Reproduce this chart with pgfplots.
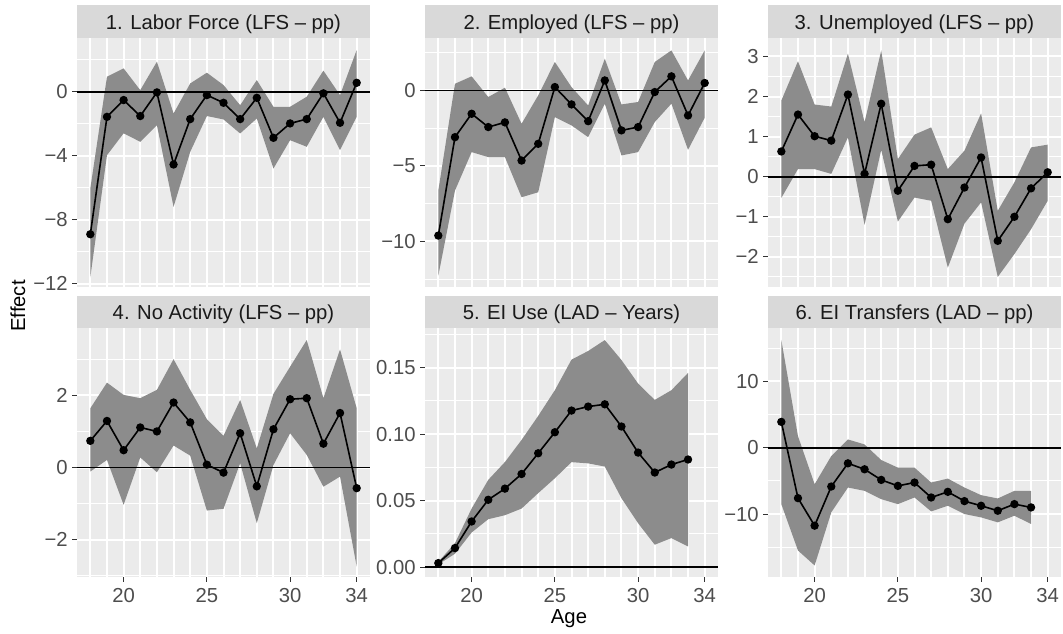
\documentclass[border=0pt]{standalone}
\usepackage{fontspec}
\setmainfont{Liberation Sans}
\usepackage{pgfplots}
\pgfplotsset{compat=1.18}
\usepackage{pgfplotstable}
\usepgfplotslibrary{fillbetween}

\definecolor{panelbg}{HTML}{EBEBEB}
\definecolor{stripbg}{HTML}{D9D9D9}
\definecolor{striptext}{HTML}{1A1A1A}
\definecolor{ticktext}{HTML}{4D4D4D}
\definecolor{tickcol}{HTML}{333333}
\definecolor{ribbon}{HTML}{8C8C8C}

\newcommand{\txt}{\fontsize{15.2}{18}\selectfont}

% age, estimate, lower bound, upper bound
\pgfplotstableread{
age est lo hi
18 -8.91 -11.60 -6.05
19 -1.57 -3.97 0.94
20 -0.52 -2.60 1.46
21 -1.52 -3.13 0.10
22 -0.04 -2.09 1.88
23 -4.55 -7.20 -1.36
24 -1.71 -3.76 0.52
25 -0.21 -1.52 1.19
26 -0.69 -1.73 0.42
27 -1.71 -2.61 -0.84
28 -0.38 -1.67 0.73
29 -2.88 -4.80 -0.94
30 -1.98 -3.03 -0.94
31 -1.71 -3.44 -0.31
32 -0.10 -1.57 1.32
33 -1.94 -3.65 -0.21
34 0.56 -1.57 2.61
}\tLabor

\pgfplotstableread{
age est lo hi
18 -9.62 -12.28 -6.64
19 -3.10 -6.64 0.44
20 -1.55 -4.09 0.93
21 -2.43 -4.42 -0.44
22 -2.12 -4.42 0.18
23 -4.65 -7.08 -2.21
24 -3.54 -6.75 -0.33
25 0.22 -1.77 1.88
26 -0.93 -2.32 0.22
27 -2.04 -3.10 -1.00
28 0.66 -0.88 2.10
29 -2.65 -4.31 -0.93
30 -2.43 -4.09 -0.77
31 -0.11 -2.10 1.88
32 0.93 -0.88 2.65
33 -1.66 -3.94 0.66
34 0.49 -1.81 2.65
}\tEmp

\pgfplotstableread{
age est lo hi
18 0.63 -0.53 1.90
19 1.55 0.19 2.88
20 1.01 0.19 1.80
21 0.90 0.07 1.75
22 2.05 0.98 3.07
23 0.07 -1.20 1.36
24 1.82 0.67 3.15
25 -0.35 -1.12 0.44
26 0.27 -0.52 1.05
27 0.30 -0.60 1.23
28 -1.06 -2.27 0.19
29 -0.27 -1.17 0.65
30 0.48 -0.64 1.58
31 -1.60 -2.50 -0.85
32 -1.00 -1.93 -0.14
33 -0.29 -1.31 0.73
34 0.11 -0.60 0.80
}\tUnemp

\pgfplotstableread{
age est lo hi
18 0.74 -0.11 1.64
19 1.29 0.21 2.35
20 0.48 -1.03 2.01
21 1.11 0.28 1.92
22 1.00 -0.13 2.15
23 1.80 0.61 3.00
24 1.25 0.33 2.15
25 0.08 -1.19 1.34
26 -0.14 -1.14 0.88
27 0.95 0.12 1.87
28 -0.52 -1.54 0.53
29 1.06 0.07 2.04
30 1.89 0.95 2.79
31 1.92 0.35 3.53
32 0.66 -0.53 1.92
33 1.51 -0.25 3.27
34 -0.57 -2.74 1.64
}\tNoAct

\pgfplotstableread{
age est lo hi
18 0.0030 0.0020 0.0040
19 0.0143 0.0100 0.0180
20 0.0343 0.0260 0.0440
21 0.0506 0.0360 0.0656
22 0.0590 0.0390 0.0790
23 0.0700 0.0440 0.0956
24 0.0856 0.0556 0.1137
25 0.1014 0.0668 0.1330
26 0.1177 0.0789 0.1560
27 0.1207 0.0780 0.1625
28 0.1224 0.0756 0.1707
29 0.1057 0.0518 0.1557
30 0.0861 0.0330 0.1380
31 0.0711 0.0168 0.1257
32 0.0771 0.0218 0.1330
33 0.0809 0.0155 0.1460
}\tEIuse

\pgfplotstableread{
age est lo hi
18 3.90 -8.50 16.25
19 -7.60 -15.50 1.75
20 -11.75 -17.75 -5.50
21 -5.85 -9.75 -1.25
22 -2.35 -6.00 1.25
23 -3.25 -6.50 0.50
24 -4.85 -7.75 -1.85
25 -5.75 -8.50 -3.00
26 -5.25 -7.50 -3.00
27 -7.50 -9.60 -5.25
28 -6.65 -8.75 -4.65
29 -8.05 -10.00 -6.00
30 -8.75 -10.50 -7.15
31 -9.50 -11.25 -7.65
32 -8.50 -10.25 -6.50
33 -9.00 -11.50 -6.50
}\tEItr

\pgfplotsset{
  facet/.style={
    scale only axis, width=219.75pt, height=187pt,
    xmin=17.2, xmax=34.8,
    axis background/.style={fill=panelbg},
    axis line style={draw=none},
    tick align=outside, tick pos=left,
    major tick length=3.4pt, minor tick length=0pt,
    every tick/.style={color=tickcol, line width=0.8pt},
    grid=both,
    major x grid style={white, line width=1.5pt},
    minor x grid style={white, line width=1.5pt},
    major y grid style={white, line width=1.5pt},
    minor y grid style={white, line width=0.75pt},
    ticklabel style={font=\txt, text=ticktext},
    yticklabel style={anchor=east, inner sep=0pt, xshift=-3.4pt},
    xticklabel style={anchor=north, inner sep=0pt, yshift=-5.1pt},
    scaled y ticks=false,
  },
  % upper panels: a vertical grid line at every age, no x ticks
  toprow/.style={facet, xtick=\empty,
    extra x ticks={18,...,34}, extra x tick labels={},
    extra x tick style={grid=major, tick style={draw=none}}},
  % lower panels: labelled ages, grid line at every age
  botrow/.style={facet, xtick={20,25,30,34}, xticklabels={20,25,30,34},
    minor xtick={18,...,34}},
}

% ribbon, zero line, then the estimate line with points
\newcommand{\facetplot}[2]{%
  \addplot[name path=hi#2, draw=none, forget plot] table[x=age, y=hi] {#1};
  \addplot[name path=lo#2, draw=none, forget plot] table[x=age, y=lo] {#1};
  \addplot[fill=ribbon, draw=none] fill between[of=hi#2 and lo#2];
  \addplot[black, line width=1.2pt] coordinates {(17.2,0) (34.8,0)};
  \addplot[black, line width=1.2pt, mark=*, mark size=2.5pt] table[x=age, y=est] {#1};
}

\begin{document}
\begin{tikzpicture}

% strips
\fill[stripbg] (57.75pt,-3.75pt) rectangle (277.5pt,-28.5pt);
\fill[stripbg] (318.75pt,-3.75pt) rectangle (538.5pt,-28.5pt);
\fill[stripbg] (576pt,-3.75pt) rectangle (795.75pt,-28.5pt);
\fill[stripbg] (57.75pt,-222pt) rectangle (277.5pt,-245.78pt);
\fill[stripbg] (318.75pt,-222pt) rectangle (538.5pt,-245.78pt);
\fill[stripbg] (576pt,-222pt) rectangle (795.75pt,-245.78pt);
\begin{scope}[every node/.style={anchor=base, font=\txt, text=striptext, inner sep=0pt}]
\node at (167.625pt,-22.2pt) {1. Labor Force (LFS – pp)};
\node at (428.625pt,-22.2pt) {2. Employed (LFS – pp)};
\node at (685.875pt,-22.2pt) {3. Unemployed (LFS – pp)};
\node at (167.625pt,-239.6pt) {4. No Activity (LFS – pp)};
\node at (428.625pt,-239.6pt) {5. EI Use (LAD – Years)};
\node at (685.875pt,-239.6pt) {6. EI Transfers (LAD – pp)};
\end{scope}

% 1. Labor force
\begin{axis}[toprow, at={(57.75pt,-28.5pt)}, anchor=north west,
  ymin=-12.23, ymax=3.36,
  ytick={-12,-8,-4,0}, yticklabels={−12,−8,−4,0},
  minor ytick={-10,-6,-2,2}]
\facetplot{\tLabor}{A}
\end{axis}

% 2. Employed
\begin{axis}[toprow, at={(318.75pt,-28.5pt)}, anchor=north west,
  ymin=-13.05, ymax=3.47,
  ytick={-10,-5,0}, yticklabels={−10,−5,0},
  minor ytick={-12.5,-7.5,-2.5,2.5}]
\facetplot{\tEmp}{B}
\end{axis}

% 3. Unemployed
\begin{axis}[toprow, at={(576pt,-28.5pt)}, anchor=north west,
  ymin=-2.76, ymax=3.46,
  ytick={-2,-1,0,1,2,3}, yticklabels={−2,−1,0,1,2,3},
  minor ytick={-2.5,-1.5,-0.5,0.5,1.5,2.5}]
\facetplot{\tUnemp}{C}
\end{axis}

% 4. No activity
\begin{axis}[botrow, at={(57.75pt,-245.78pt)}, anchor=north west,
  ymin=-3.03, ymax=3.87,
  ytick={-2,0,2}, yticklabels={−2,0,2},
  minor ytick={-3,-1,1,3}]
\facetplot{\tNoAct}{D}
\end{axis}

% 5. EI use
\begin{axis}[botrow, at={(318.75pt,-245.78pt)}, anchor=north west,
  ymin=-0.0075, ymax=0.18,
  ytick={0,0.05,0.1,0.15}, yticklabels={0.00,0.05,0.10,0.15},
  minor ytick={0.025,0.075,0.125,0.175}]
\facetplot{\tEIuse}{E}
\end{axis}

% 6. EI transfers
\begin{axis}[botrow, at={(576pt,-245.78pt)}, anchor=north west,
  ymin=-19.5, ymax=18.1,
  ytick={-10,0,10}, yticklabels={−10,0,10},
  minor ytick={-15,-5,5,15}]
\facetplot{\tEItr}{F}
\end{axis}

% axis titles
\node[anchor=base, font=\txt, inner sep=0pt] at (426.75pt,-467.6pt) {Age};
\node[anchor=base, rotate=90, font=\txt, inner sep=0pt] at (18.75pt,-229.5pt) {Effect};

\pgfresetboundingbox
\path[use as bounding box] (0,0) rectangle (797.25pt,-474.75pt);
\end{tikzpicture}
\end{document}
